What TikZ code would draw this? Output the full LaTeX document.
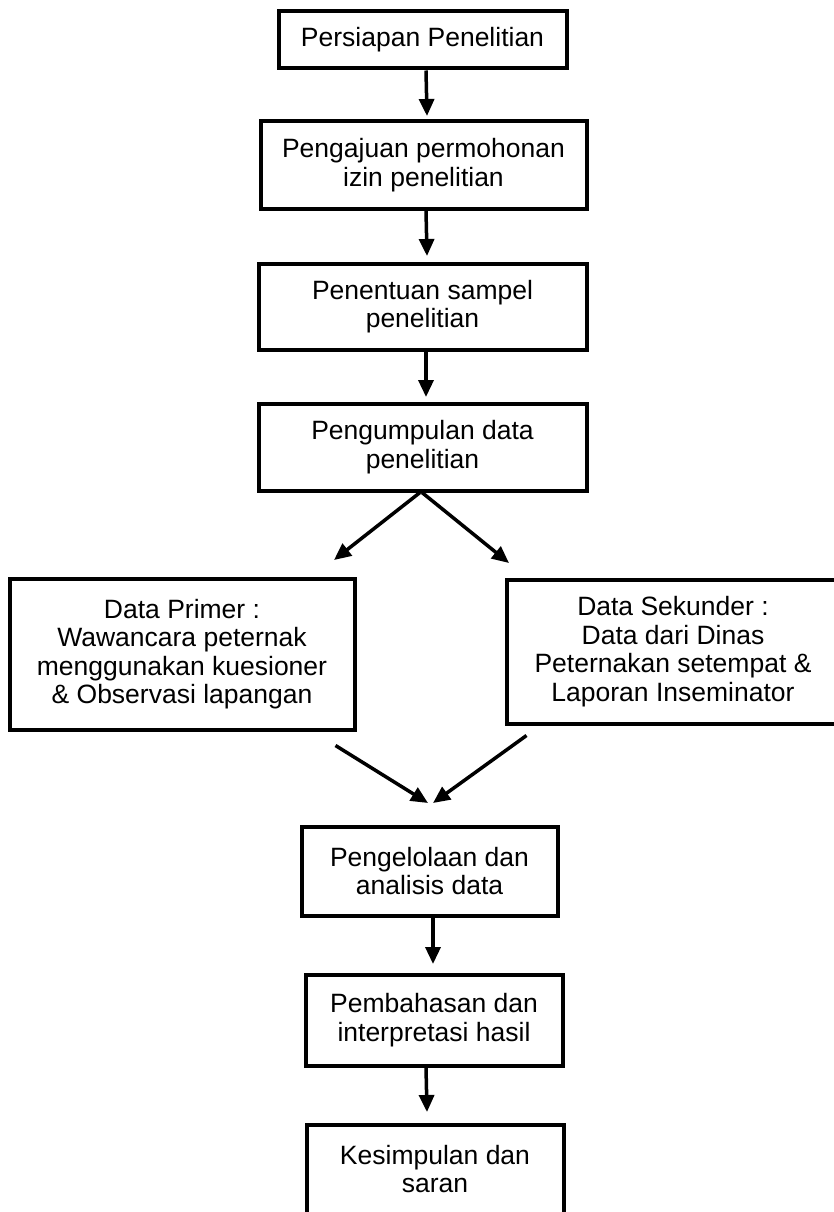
\documentclass[tikz,border=0pt]{standalone}
\usepackage{fontspec}
\setmainfont{Liberation Sans}
\usetikzlibrary{arrows.meta}
\tikzset{
  box/.style={draw=black, line width=4pt, rectangle, inner sep=0pt, align=center,
    font=\fontsize{26.5}{28.5}\selectfont},
  arr/.style={line width=3.5pt, -{Triangle[width=15pt,length=17pt]}}
}
\begin{document}
\begin{tikzpicture}[x=1pt,y=-1pt]
\useasboundingbox (0,0) rectangle (834,1212);
\clip (0,0) rectangle (834,1212);
\node[box, minimum width=288pt, minimum height=57pt] (b1) at (422.5,40) {Persiapan Penelitian};
\node[box, minimum width=326pt, minimum height=87pt] (b2) at (423.5,165) {Pengajuan permohonan\\izin penelitian};
\node[box, minimum width=328pt, minimum height=86pt] (b3) at (422.5,306.5) {Penentuan sampel\\penelitian};
\node[box, minimum width=328pt, minimum height=87pt] (b4) at (422.5,447) {Pengumpulan data\\penelitian};
\node[box, minimum width=345pt, minimum height=151pt] (pl) at (182,654) {Data Primer :\\Wawancara peternak\\menggunakan kuesioner\\\& Observasi lapangan};
\node[box, minimum width=333pt, minimum height=144pt] (ps) at (673,651.5) {Data Sekunder :\\Data dari Dinas\\Peternakan setempat \&\\Laporan Inseminator};
\node[box, minimum width=256pt, minimum height=89pt] (b7) at (429.5,871) {Pengelolaan dan\\analisis data};
\node[box, minimum width=257pt, minimum height=91pt] (b8) at (434,1020) {Pembahasan dan\\interpretasi hasil};
\node[box, minimum width=257pt, minimum height=89pt] (b9) at (435,1169) {Kesimpulan dan\\saran};

\coordinate (t1) at (427,116);
\coordinate (t2) at (427,256);
\coordinate (t3) at (426,397);
\coordinate (t4) at (334,560);
\coordinate (t5) at (509,563);
\coordinate (t6) at (428,803);
\coordinate (t7) at (433,803);
\coordinate (t8) at (433,964);
\coordinate (t9) at (427,1112);

\draw[arr] ([xshift=3.5pt]b1.south) -- (t1);
\draw[arr] ([xshift=2.5pt]b2.south) -- (t2);
\draw[arr] ([xshift=3.5pt]b3.south) -- (t3);
\draw[arr] ([xshift=-2.5pt]b4.south) -- (t4);
\draw[arr] ([xshift=-0.5pt]b4.south) -- (t5);
\draw[arr] ([xshift=-21pt,yshift=-14pt]pl.south east) -- (t6);
\draw[arr] ([xshift=22pt,yshift=-10pt]ps.south west) -- (t7);
\draw[arr] ([xshift=3.5pt]b7.south) -- (t8);
\draw[arr] ([xshift=-8pt]b8.south) -- (t9);
\end{tikzpicture}
\end{document}
